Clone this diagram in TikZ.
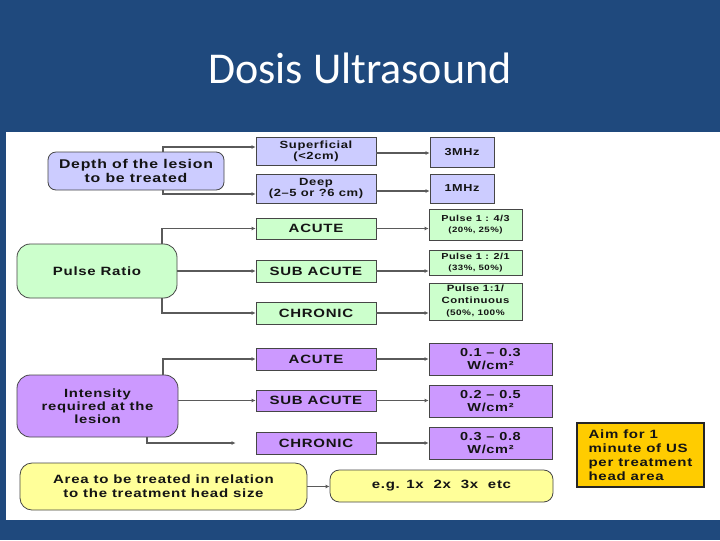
\documentclass[tikz,border=0pt]{standalone}
\usepackage{fontspec}
\setmainfont{Liberation Sans}[FakeStretch=1.25,LetterSpace=6]
\newfontfamily\titlefont{Carlito}
\usetikzlibrary{arrows.meta}
\definecolor{slide}{RGB}{31,73,125}
\definecolor{lav}{RGB}{204,204,255}
\definecolor{grn}{RGB}{204,255,204}
\definecolor{pur}{RGB}{204,153,255}
\definecolor{yel}{RGB}{255,255,153}
\definecolor{org}{RGB}{255,204,0}
\definecolor{edge}{RGB}{70,70,70}
\definecolor{ink}{RGB}{20,20,20}
\definecolor{wire}{RGB}{90,90,90}
\newcommand\fs[2]{\fontsize{#1}{#2}\selectfont}
% box from corner (x1,y1) to (x2,y2) in pixel units
\newcommand\bx[7]{\node[#1, minimum width={(#4-#2)*0.75pt}, minimum height={(#5-#3)*0.75pt}] (#6) at ({(#2+#4)/2},{(#3+#5)/2}) {#7};}
\tikzset{
 sq/.style={draw=edge, line width=0.6pt, inner sep=0pt, align=center, text=ink, font=\bfseries},
 rnd/.style={sq, rounded corners=#1},
 fsz/.style 2 args={font=\bfseries\fontsize{#1}{#2}\selectfont},
 conn/.style={draw=wire, line width=0.8pt, -{Latex[length=3pt,width=3pt]}},
}
\begin{document}
\begin{tikzpicture}[x=0.75pt,y=-0.75pt]
\fill[slide] (0,0) rectangle (720,540);
\fill[white] (6,132) rectangle (720,520);
\node[font={\titlefont\fontsize{33}{36}\selectfont}, text=white] (title) at (360,68) {Dosis Ultrasound};
% depth
\bx{rnd=6pt, fill=lav, fsz={9.5}{10.5}}{48}{152}{224}{190}{depth}{Depth of the lesion\\to be treated}
\bx{sq, fill=lav, fsz={7.8}{8.5}}{256}{137}{376}{165}{sup}{Superficial\\(<2cm)}
\bx{sq, fill=lav, fsz={7.8}{8.5}}{256}{174}{376}{203}{deep}{Deep\\(2–5 or ?6 cm)}
\bx{sq, fill=lav, fsz={7.6}{8.5}}{430}{137}{494}{167}{mhz3}{3MHz}
\bx{sq, fill=lav, fsz={7.6}{8.5}}{430}{174}{494}{203}{mhz1}{1MHz}
% pulse
\bx{rnd=10pt, fill=grn, fsz={9}{10}}{17}{244}{177}{298}{pr}{Pulse Ratio}
\bx{sq, fill=grn, fsz={9}{10}}{256}{218}{376}{239}{ga}{ACUTE}
\bx{sq, fill=grn, fsz={9}{10}}{256}{260}{376}{282}{gs}{SUB ACUTE}
\bx{sq, fill=grn, fsz={9}{10}}{256}{302}{376}{324}{gc}{CHRONIC}
\bx{sq, fill=grn, fsz={6.5}{8.5}}{429}{209}{522}{240}{p1}{Pulse 1 : 4/3\\\fs{5.8}{8.5}(20\%, 25\%)}
\bx{sq, fill=grn, fsz={6.5}{8.5}}{429}{250}{522}{275}{p2}{Pulse 1 : 2/1\\\fs{5.8}{8.5}(33\%, 50\%)}
\bx{sq, fill=grn, fsz={6.8}{9}}{429}{283}{522}{320}{p3}{Pulse 1:1/\\Continuous\\\fs{6}{9}(50\%, 100\%}
% intensity
\bx{rnd=10pt, fill=pur, fsz={8.9}{9.75}}{17}{375}{178}{437}{int}{Intensity\\required at the\\lesion}
\bx{sq, fill=pur, fsz={9}{10}}{256}{348}{376}{370}{pa}{ACUTE}
\bx{sq, fill=pur, fsz={9}{10}}{256}{390}{376}{411}{ps}{SUB ACUTE}
\bx{sq, fill=pur, fsz={9}{10}}{256}{432}{376}{454}{pc}{CHRONIC}
\bx{sq, fill=pur, fsz={8.7}{9.75}}{429}{343}{552}{375}{v1}{0.1 – 0.3\\W/cm²}
\bx{sq, fill=pur, fsz={8.7}{9.75}}{429}{385}{552}{417}{v2}{0.2 – 0.5\\W/cm²}
\bx{sq, fill=pur, fsz={8.7}{9.75}}{429}{427}{552}{459}{v3}{0.3 – 0.8\\W/cm²}
% area
\bx{sq, draw=black!85, line width=1pt, fill=org, align=left, fsz={9}{10.5}}{577}{423}{704}{487}{aim}{Aim for 1\\minute of US\\per treatment\\head area}
\bx{rnd=9pt, fill=yel, fsz={9}{10.5}}{20}{463}{307}{510}{area}{Area to be treated in relation\\to the treatment head size}
\bx{rnd=7pt, fill=yel, fsz={9}{10}}{330}{470}{553}{502}{eg}{e.g. 1x\ \ 2x\ \ 3x\ \ etc}
% connectors
\coordinate (c1) at (163,0);
\coordinate (c2) at (162,0);
\coordinate (c3) at (147,0);
\draw[conn] (depth.north -| c1) |- (sup.west |- 0,147);
\draw[conn] (depth.south -| c1) |- (deep.west |- 0,194);
\draw[conn] (sup.east |- 0,153) -- (mhz3.west |- 0,153);
\draw[conn] (deep.east |- 0,191) -- (mhz1.west |- 0,191);
\draw[conn] (pr.north -| c2) |- (ga.west);
\draw[conn] (pr.east) -- (gs.west);
\draw[conn] (pr.south -| c2) |- (gc.west);
\draw[conn] (ga.east) -- (ga.east -| p1.west);
\draw[conn] (gs.east) -- (gs.east -| p2.west);
\draw[conn] (gc.east) -- (gc.east -| p3.west);
\draw[conn] (int.north -| c1) |- (pa.west);
\draw[conn] (int.east |- ps.west) -- (ps.west);
\draw[conn, shorten >=15pt] (int.south -| c3) |- (pc.west);
\draw[conn] (pa.east) -- (pa.east -| v1.west);
\draw[conn] (ps.east) -- (ps.east -| v2.west);
\draw[conn] (pc.east) -- (pc.east -| v3.west);
\draw[conn] (area.east) -- (area.east -| eg.west);
\end{tikzpicture}
\end{document}
